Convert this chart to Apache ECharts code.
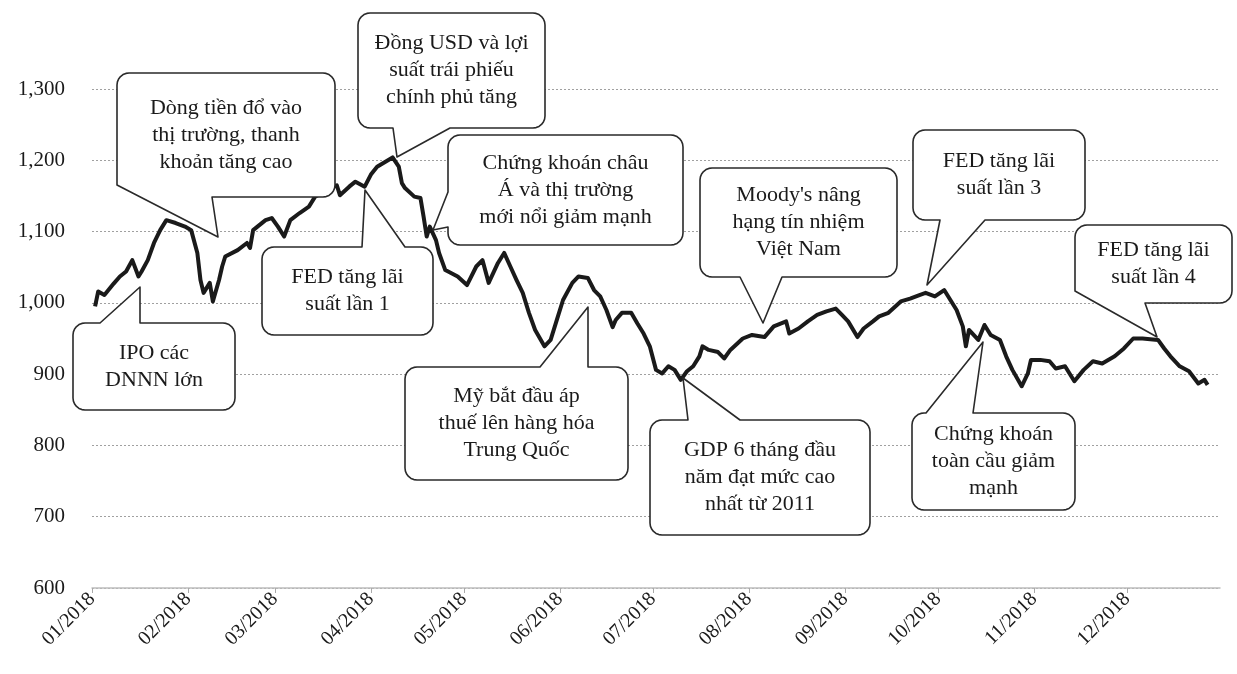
<!DOCTYPE html>
<html><head><meta charset="utf-8">
<script src="https://cdn.jsdelivr.net/npm/echarts@6/dist/echarts.min.js"></script>
<style>html,body{margin:0;padding:0;background:#fff}#c{width:1237px;height:674px}</style>
</head><body><div id="c"></div>
<script>
// VN-Index 2018
const sampleDates = [
 '2018-01-02','2018-01-03','2018-01-05','2018-01-08','2018-01-10','2018-01-12','2018-01-14','2018-01-16','2018-01-17','2018-01-19',
 '2018-01-21','2018-01-23','2018-01-25','2018-01-28','2018-01-31','2018-02-02','2018-02-04','2018-02-05','2018-02-06','2018-02-08',
 '2018-02-09','2018-02-11','2018-02-12','2018-02-13','2018-02-17','2018-02-20','2018-02-21','2018-02-22','2018-02-26','2018-02-28',
 '2018-03-02','2018-03-04','2018-03-06','2018-03-09','2018-03-12','2018-03-14','2018-03-19','2018-03-21','2018-03-22','2018-03-25',
 '2018-03-27','2018-03-30','2018-04-01','2018-04-03','2018-04-08','2018-04-10','2018-04-11','2018-04-12','2018-04-15','2018-04-17',
 '2018-04-18','2018-04-19','2018-04-20','2018-04-22','2018-04-23','2018-04-25','2018-04-29','2018-05-02','2018-05-05','2018-05-07',
 '2018-05-09','2018-05-12','2018-05-14','2018-05-16','2018-05-18','2018-05-20','2018-05-22','2018-05-24','2018-05-27','2018-05-29',
 '2018-05-31','2018-06-02','2018-06-05','2018-06-07','2018-06-10','2018-06-12','2018-06-14','2018-06-16','2018-06-18','2018-06-19',
 '2018-06-21','2018-06-24','2018-06-26','2018-06-28','2018-06-30','2018-07-02','2018-07-04','2018-07-06','2018-07-08','2018-07-10',
 '2018-07-12','2018-07-14','2018-07-16','2018-07-17','2018-07-19','2018-07-22','2018-07-24','2018-07-26','2018-07-30','2018-08-02',
 '2018-08-06','2018-08-09','2018-08-13','2018-08-14','2018-08-17','2018-08-20','2018-08-23','2018-08-26','2018-08-29','2018-08-31',
 '2018-09-02','2018-09-05','2018-09-07','2018-09-10','2018-09-12','2018-09-15','2018-09-19','2018-09-22','2018-09-25','2018-09-27',
 '2018-09-30','2018-10-03','2018-10-05','2018-10-07','2018-10-09','2018-10-10','2018-10-11','2018-10-14','2018-10-16','2018-10-18',
 '2018-10-21','2018-10-23','2018-10-25','2018-10-28','2018-10-30','2018-10-31','2018-11-03','2018-11-06','2018-11-08','2018-11-11',
 '2018-11-14','2018-11-17','2018-11-20','2018-11-23','2018-11-27','2018-11-30','2018-12-03','2018-12-06','2018-12-11','2018-12-13',
 '2018-12-15','2018-12-18','2018-12-21','2018-12-24','2018-12-26','2018-12-27'
];
const sampleValues = [
 995,1016,1011,1027,1037,1044,1060,1037,1044,1060,
 1084,1102,1116,1112,1107,1102,1070,1032,1014,1028,
 1002,1032,1051,1065,1074,1084,1077,1102,1116,1119,
 1107,1093,1116,1126,1135,1149,1161,1165,1151,1163,
 1170,1163,1180,1191,1204,1191,1168,1161,1149,1147,
 1121,1093,1107,1088,1070,1046,1037,1025,1051,1060,
 1028,1056,1070,1051,1032,1014,986,962,939,948,
 976,1004,1028,1037,1035,1018,1009,990,966,976,
 986,986,971,957,939,906,901,911,906,892,
 904,911,925,939,934,931,922,934,950,955,
 952,967,974,957,964,974,983,988,992,983,
 974,952,964,974,981,986,1002,1006,1011,1014,
 1009,1018,1004,990,967,939,962,948,969,955,
 948,925,906,883,901,920,920,918,908,911,
 890,906,918,915,925,936,950,950,948,936,
 925,911,904,887,892,885
];
const yMin = 600, yMax = 1300, yStep = 100;

// callout annotations (layout in pixels)
const callouts = [
 {lines:['IPO các','DNNN lớn'], box:[73,323,162,87], ptr:{side:'top',a:100,b:140,tip:[140,287]}},
 {lines:['Dòng tiền đổ vào','thị trường, thanh','khoản tăng cao'], box:[117,73,218,124], ptr:{side:'bottom',corner:true,b:212,tip:[218,237]}},
 {lines:['Đồng USD và lợi','suất trái phiếu','chính phủ tăng'], box:[358,13,187,115], ptr:{side:'bottom',a:393,b:450,tip:[397,157]}},
 {lines:['FED tăng lãi','suất lần 1'], box:[262,247,171,88], ptr:{side:'top',a:362,b:405,tip:[365,190]}},
 {lines:['Chứng khoán châu','Á và thị trường','mới nổi giảm mạnh'], box:[448,135,235,110], ptr:{side:'left',a:192,b:227,tip:[433,230]}},
 {lines:['Mỹ bắt đầu áp','thuế lên hàng hóa','Trung Quốc'], box:[405,367,223,113], ptr:{side:'top',a:540,b:588,tip:[588,307]}},
 {lines:['GDP 6 tháng đầu','năm đạt mức cao','nhất từ 2011'], box:[650,420,220,115], ptr:{side:'top',a:688,b:740,tip:[683,378]}},
 {lines:["Moody's nâng",'hạng tín nhiệm','Việt Nam'], box:[700,168,197,109], ptr:{side:'bottom',a:740,b:782,tip:[763,323]}},
 {lines:['FED tăng lãi','suất lần 3'], box:[913,130,172,90], ptr:{side:'bottom',a:940,b:985,tip:[927,285]}},
 {lines:['FED tăng lãi','suất lần 4'], box:[1075,225,157,78], ptr:{side:'bottom',corner:true,b:1145,tip:[1157,337]}},
 {lines:['Chứng khoán','toàn cầu giảm','mạnh'], box:[912,413,163,97], ptr:{side:'top',a:926,b:973,tip:[983,342]}}
];

// calendar days of 2018 (category axis)
const days = [];
for (let t = Date.UTC(2018,0,1); t <= Date.UTC(2018,11,31); t += 86400000) days.push(new Date(t).toISOString().slice(0,10));
const valueByDate = {};
sampleDates.forEach((d,i)=>{ valueByDate[d] = sampleValues[i]; });
const seriesData = days.map(d => (d in valueByDate) ? valueByDate[d] : null);
const isMonthStart = (i, v) => String(v).slice(8,10) === '01';

function arc(pts, cx, cy, r, a0, a1){
  for (let k = 0; k <= 6; k++){
    const a = (a0 + (a1 - a0) * k / 6) * Math.PI / 180;
    pts.push([cx + r * Math.cos(a), cy + r * Math.sin(a)]);
  }
}
function bubblePoints(bx, p){
  const [x,y,w,h] = bx, r = 12, R = x + w, B = y + h;
  const pts = [];
  arc(pts, x+r, y+r, r, 180, 270);
  if (p.side === 'top') pts.push([p.a,y], p.tip, [p.b,y]);
  arc(pts, R-r, y+r, r, 270, 360);
  arc(pts, R-r, B-r, r, 0, 90);
  if (p.side === 'bottom') {
    pts.push([p.b,B], p.tip);
    if (p.corner) pts.push([x, B-r]);
    else { pts.push([p.a,B]); arc(pts, x+r, B-r, r, 90, 180); }
  } else arc(pts, x+r, B-r, r, 90, 180);
  if (p.side === 'left') pts.push([x,p.b], p.tip, [x,p.a]);
  return pts;
}

const graphics = [];
callouts.forEach(c => {
  graphics.push({type:'polygon', z:100, shape:{points: bubblePoints(c.box, c.ptr)},
    style:{fill:'#fff', stroke:'#2a2a2a', lineWidth:1.6, lineJoin:'round'}});
  graphics.push({type:'text', z:101, x: c.box[0] + c.box[2]/2, y: c.box[1] + c.box[3]/2,
    style:{text: c.lines.join('\n'), font:'22px "Liberation Serif"', fill:'#1a1a1a',
      align:'center', verticalAlign:'middle', lineHeight:27}});
});

const chart = echarts.init(document.getElementById('c'));
chart.setOption({
  animation:false,
  backgroundColor:'#fff',
  grid:{left:92, right:17, top:89, bottom:86, containLabel:false},
  xAxis:{
    type:'category', data:days, boundaryGap:false,
    axisLine:{lineStyle:{color:'#bdbdbd', width:1.5}},
    axisTick:{interval:isMonthStart, length:5, lineStyle:{color:'#aaa'}},
    axisLabel:{interval:isMonthStart, rotate:45, margin:8,
      formatter: v => v.slice(5,7) + '/' + v.slice(0,4),
      fontFamily:'Liberation Serif', fontSize:20, color:'#1a1a1a'},
    splitLine:{show:false}
  },
  yAxis:{
    type:'value', min:yMin, max:yMax, interval:yStep,
    axisLine:{show:false}, axisTick:{show:false},
    axisLabel:{margin:27, fontFamily:'Liberation Serif', fontSize:21, color:'#1a1a1a',
      formatter: v => v.toLocaleString('en-US')},
    splitLine:{lineStyle:{type:[2,2], color:'#a0a0a0', width:1}}
  },
  series:[{
    type:'line', data:seriesData, connectNulls:true, showSymbol:false, symbol:'none',
    lineStyle:{color:'#1a1a1a', width:4, join:'round'}, z:5
  }],
  graphic:graphics
});
</script></body></html>
